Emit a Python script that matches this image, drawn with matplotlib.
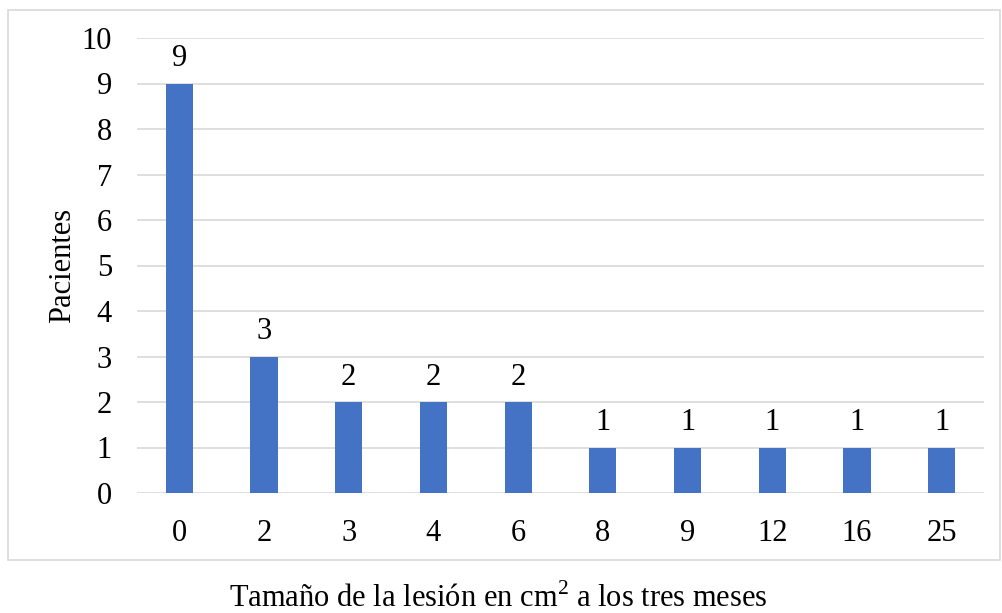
import matplotlib
matplotlib.use("Agg")
import matplotlib.pyplot as plt
from matplotlib.patches import Rectangle

plt.rcParams['font.family'] = ['Liberation Serif', 'DejaVu Serif']
plt.rcParams['mathtext.fontset'] = 'custom'
plt.rcParams['mathtext.rm'] = 'Liberation Serif'

sizes = ["0", "2", "3", "4", "6", "8", "9", "12", "16", "25"]
patients = [9, 3, 2, 2, 2, 1, 1, 1, 1, 1]

W, H = 1002, 613
fig = plt.figure(figsize=(W / 100, H / 100), dpi=100)
ax = fig.add_axes([137 / W, (H - 493) / H, (984 - 137) / W, (493 - 38) / H])

x = list(range(len(sizes)))
bars = ax.bar(x, patients, width=0.32, color="#4472C4", zorder=3)
ax.bar_label(bars, labels=[str(v) for v in patients], padding=7.5, fontsize=22)

ax.set_xlim(-0.5, len(sizes) - 0.5)
ax.set_ylim(0, 10)
ax.set_yticks(range(0, 11))
ax.set_xticks(x)
ax.set_xticklabels(sizes)
ax.tick_params(axis="both", length=0, labelsize=22)
ax.tick_params(axis="y", pad=18)
ax.tick_params(axis="x", pad=19)
ax.yaxis.grid(True, color="#d9d9d9", linewidth=1.2, zorder=0)
for s in ax.spines.values():
    s.set_visible(False)

ax.set_ylabel("Pacientes", fontsize=22)
ax.yaxis.set_label_coords(-0.0708, 0.5)

# chart-area frame
fig.patches.append(Rectangle((8 / W, (H - 560) / H), (1000 - 8) / W, (560 - 10) / H,
                             transform=fig.transFigure, fill=False,
                             edgecolor="#d9d9d9", linewidth=1.2))

fig.text(498.5 / W, (H - 607) / H, r"Tamaño de la lesión en cm$^{2}$ a los tres meses",
         ha="center", va="baseline", fontsize=22)

fig.savefig("out.png", dpi=100)
